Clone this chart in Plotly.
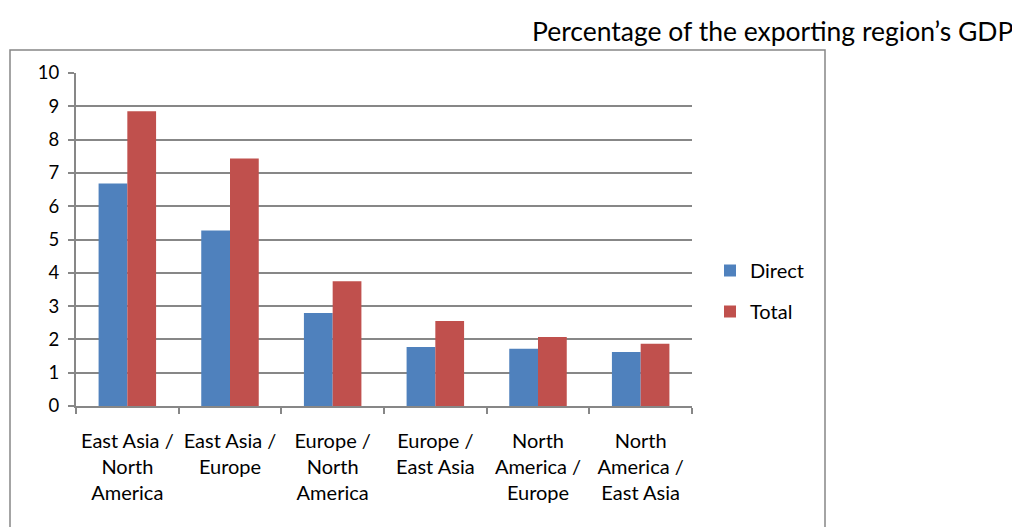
import plotly.graph_objects as go

categories = ["East Asia /<br>North<br>America", "East Asia /<br>Europe", "Europe /<br>North<br>America",
              "Europe /<br>East Asia", "North<br>America /<br>Europe", "North<br>America /<br>East Asia"]
direct = [6.68, 5.27, 2.79, 1.77, 1.72, 1.62]
total = [8.85, 7.43, 3.75, 2.55, 2.07, 1.87]
y_ticks = list(range(0, 11))

FONT = "Lato, Open Sans, sans-serif"
GRID = "#878787"

fig = go.Figure()
fig.add_trace(go.Bar(name="Direct", x=categories, y=direct, legendgroup="d",
                     marker=dict(color="#4F81BD", line=dict(width=0))))
fig.add_trace(go.Bar(name="Total", x=categories, y=total, legendgroup="t",
                     marker=dict(color="#C0504D", line=dict(width=0))))

OFF = 8  # page body margin
W, H = 1020 - OFF, 527 - OFF
# plot area in page pixels: x 76..692, y 73..406
L, R, T, B = 76 - OFF, W - (692 - OFF), 73 - OFF, H - (406 - OFF)
pw, ph = W - L - R, H - T - B

def px_x(p):
    return (p - OFF - L) / pw

def px_y(p):
    return (H - B - (p - OFF)) / ph

fig.update_layout(
    width=W, height=H,
    margin=dict(l=L, r=R, t=T, b=B, pad=0, autoexpand=False),
    paper_bgcolor="white", plot_bgcolor="white",
    barmode="group", bargap=0.44, bargroupgap=0,
    font=dict(family=FONT, size=18, color="#000000"),
    showlegend=True,
    legend=dict(x=px_x(710), y=px_y(251), xanchor="left", yanchor="top",
                font=dict(size=20), tracegroupgap=12, itemwidth=30,
                bgcolor="rgba(0,0,0,0)"),
    xaxis=dict(type="category", showline=True, linecolor=GRID, linewidth=2,
               ticks="outside", tickson="boundaries", ticklen=6, tickcolor=GRID, tickwidth=2,
               showgrid=False, tickfont=dict(size=20), ticklabelstandoff=16,
               tickangle=0, automargin=False),
    yaxis=dict(range=[0, 10], tickvals=y_ticks, showline=True, linecolor=GRID, linewidth=2,
               ticks="outside", ticklen=6, tickcolor=GRID, tickwidth=2,
               showgrid=True, gridcolor=GRID, gridwidth=2, zeroline=False,
               tickfont=dict(size=18.5), ticklabelstandoff=5, automargin=False),
    shapes=[dict(type="rect", xref="paper", yref="paper",
                 x0=px_x(10), x1=px_x(825), y0=px_y(560), y1=px_y(50),
                 line=dict(color="#868686", width=1.5), fillcolor="rgba(0,0,0,0)", layer="below")],
    annotations=[dict(text="Percentage of the exporting region’s GDP", xref="paper", yref="paper",
                      x=px_x(1015), y=px_y(31), xanchor="right", yanchor="middle",
                      showarrow=False, font=dict(size=26.5, family=FONT))],
)

fig.write_html("out.html")
